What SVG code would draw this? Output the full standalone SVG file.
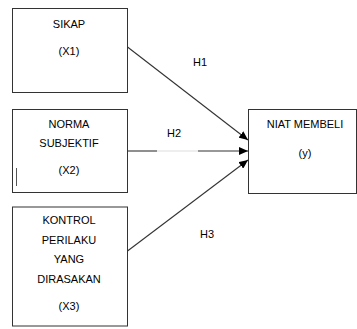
<svg xmlns="http://www.w3.org/2000/svg" width="357" height="329" viewBox="0 0 357 329">
<defs>
<marker id="arr" markerWidth="9" markerHeight="8" refX="9" refY="4" orient="auto" markerUnits="userSpaceOnUse">
<path d="M0,0 L9,4 L0,8 Z" fill="#000"/>
</marker>
<style>
.box{fill:#fff;stroke:#333;stroke-width:1}
.t{font-family:"Liberation Sans",Arial,sans-serif;font-size:11px;fill:#000;text-anchor:middle}
.ln{stroke:#333;stroke-width:1.1;fill:none}
</style>
</defs>
<rect width="357" height="329" fill="#fff"/>
<g id="connectors">
<line class="ln" x1="127.5" y1="47" x2="248" y2="140" marker-end="url(#arr)"/>
<line class="ln" x1="127.5" y1="151" x2="157" y2="151"/>
<line x1="157" y1="151" x2="198" y2="151" stroke="#ddd" stroke-width="1.1"/>
<line class="ln" x1="198" y1="151" x2="248" y2="151" marker-end="url(#arr)"/>
<line class="ln" x1="127.5" y1="251" x2="248" y2="160" marker-end="url(#arr)"/>
<text class="t" x="200" y="66">H1</text>
<text class="t" x="174" y="137">H2</text>
<text class="t" x="207" y="238">H3</text>
</g>
<g id="sikap">
<rect class="box" x="12.5" y="8.5" width="115" height="84"/>
<text class="t" x="69" y="28">SIKAP</text>
<text class="t" x="69" y="55">(X1)</text>
</g>
<g id="norma">
<rect class="box" x="12.5" y="109.5" width="115" height="83"/>
<text class="t" x="69" y="128">NORMA</text>
<text class="t" x="69" y="147">SUBJEKTIF</text>
<text class="t" x="69" y="174">(X2)</text>
<line x1="16.5" y1="168" x2="16.5" y2="186" stroke="#555" stroke-width="1"/>
</g>
<g id="kontrol">
<rect class="box" x="12.5" y="207" width="115" height="119"/>
<text class="t" x="69" y="224">KONTROL</text>
<text class="t" x="69" y="244">PERILAKU</text>
<text class="t" x="69" y="263">YANG</text>
<text class="t" x="69" y="283">DIRASAKAN</text>
<text class="t" x="69" y="310">(X3)</text>
</g>
<g id="niat">
<rect class="box" x="248.5" y="109.5" width="108" height="84"/>
<text class="t" x="305" y="128">NIAT MEMBELI</text>
<text class="t" x="305" y="157">(y)</text>
</g>
</svg>
